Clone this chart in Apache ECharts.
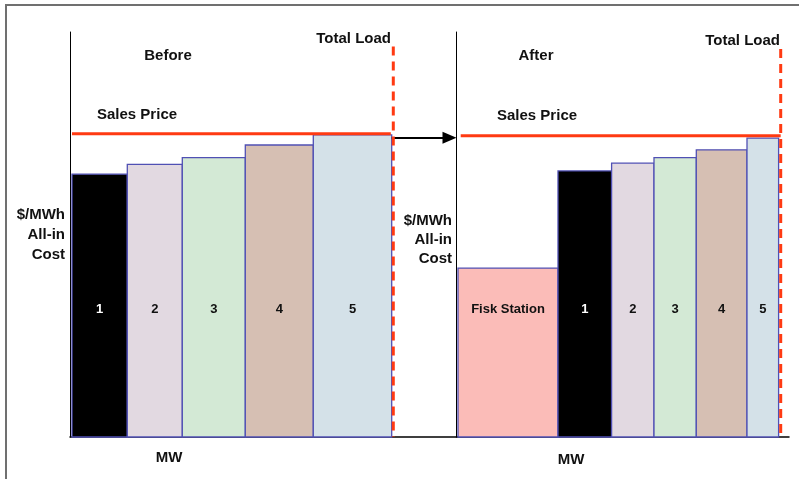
<!DOCTYPE html>
<html>
<head>
<meta charset="utf-8">
<style>
  html, body { margin: 0; padding: 0; background: #ffffff; }
  #chart { width: 799px; height: 479px; }
</style>
<script src="https://cdn.jsdelivr.net/npm/echarts@6/dist/echarts.min.js"></script>
</head>
<body>
<div id="chart"></div>
<script>
// Supply stack: each unit is a block whose width is its capacity (MW)
// and whose height is its all-in cost ($/MWh).
const beforeUnits = ['1', '2', '3', '4', '5'];
const beforeMW    = [553, 550, 630, 680, 784];
const beforeCost  = [64.9, 67.3, 69.0, 72.1, 74.6];

const afterUnits = ['Fisk Station', '1', '2', '3', '4', '5'];
const afterMW    = [1000, 536, 424, 423, 507, 316];
const afterCost  = [41.7, 65.7, 67.6, 69.0, 70.9, 73.8];

const unitColors = {
  'Fisk Station': '#fbbcb8',
  '1': '#000000',
  '2': '#e2d9e1',
  '3': '#d3e9d5',
  '4': '#d6bfb3',
  '5': '#d4e1e8'
};

const beforeLoad = 3213;      // total load, MW
const afterLoad = 3227;
const beforePrice = 74.9;     // sales price, $/MWh
const afterPrice = 74.4;
const labelLevel = 31.6;      // height at which unit names are written

// Cumulative blocks [startMW, endMW, cost]
function stack(mw, cost) {
  let x = 0;
  return mw.map((w, i) => {
    const item = [x, x + w, cost[i]];
    x += w;
    return item;
  });
}

const beforeBlocks = stack(beforeMW, beforeCost);
const afterBlocks = stack(afterMW, afterCost);

function blockRenderer(names) {
  return function (params, api) {
    const x0 = api.value(0), x1 = api.value(1), c = api.value(2);
    const name = names[params.dataIndex];
    const p0 = api.coord([x0, 0]);
    const p1 = api.coord([x1, c]);
    const ly = api.coord([x0, labelLevel])[1];
    return {
      type: 'group',
      children: [
        {
          type: 'rect',
          shape: { x: p0[0], y: p1[1], width: p1[0] - p0[0], height: p0[1] - p1[1] },
          style: { fill: unitColors[name], stroke: '#5050b4', lineWidth: 1.3 }
        },
        {
          type: 'text',
          style: {
            text: name,
            x: (p0[0] + p1[0]) / 2,
            y: ly,
            align: 'center',
            verticalAlign: 'middle',
            fill: name === '1' ? '#ffffff' : '#111111',
            font: 'bold 13px "Liberation Sans", Arial, sans-serif'
          }
        }
      ]
    };
  };
}

const FONT = '"Liberation Sans", Arial, sans-serif';
const red = '#ff3a12';

function textEl(text, x, y, align, size, lineHeight) {
  return {
    type: 'text',
    x: x, y: y,
    style: {
      text: text,
      align: align,
      verticalAlign: 'middle',
      fill: '#111111',
      font: 'bold ' + (size || 15) + 'px ' + FONT,
      lineHeight: lineHeight || 18
    }
  };
}

const chart = echarts.init(document.getElementById('chart'), null, { renderer: 'canvas' });

const hiddenAxis = {
  axisTick: { show: false },
  axisLabel: { show: false },
  splitLine: { show: false }
};

chart.setOption({
  animation: false,
  backgroundColor: '#ffffff',
  grid: [
    { left: 70, top: 32, width: 386, height: 405 },
    { left: 456.5, top: 32, width: 332.5, height: 405 }
  ],
  xAxis: [
    Object.assign({ type: 'value', gridIndex: 0, min: -20, max: 3840,
      axisLine: { onZero: false, lineStyle: { color: '#000000', width: 1.5 } } }, hiddenAxis),
    Object.assign({ type: 'value', gridIndex: 1, min: -15, max: 3310,
      axisLine: { onZero: false, lineStyle: { color: '#000000', width: 1.5 } } }, hiddenAxis)
  ],
  yAxis: [
    Object.assign({ type: 'value', gridIndex: 0, min: 0, max: 100,
      axisLine: { show: true, onZero: false, lineStyle: { color: '#000000', width: 1 } } }, hiddenAxis),
    Object.assign({ type: 'value', gridIndex: 1, min: 0, max: 100,
      axisLine: { show: true, onZero: false, lineStyle: { color: '#000000', width: 1 } } }, hiddenAxis)
  ],
  series: [
    {
      type: 'custom', xAxisIndex: 0, yAxisIndex: 0,
      renderItem: blockRenderer(beforeUnits), data: beforeBlocks, z: 2
    },
    {
      type: 'custom', xAxisIndex: 1, yAxisIndex: 1,
      renderItem: blockRenderer(afterUnits), data: afterBlocks, z: 2
    },
    // sales price
    {
      type: 'line', xAxisIndex: 0, yAxisIndex: 0, symbol: 'none', z: 4,
      lineStyle: { color: red, width: 3 },
      data: [[0, beforePrice], [beforeLoad - 25, beforePrice]]
    },
    {
      type: 'line', xAxisIndex: 1, yAxisIndex: 1, symbol: 'none', z: 4,
      lineStyle: { color: red, width: 3 },
      data: [[27, afterPrice], [afterLoad, afterPrice]]
    },
    // total load
    {
      type: 'line', xAxisIndex: 0, yAxisIndex: 0, symbol: 'none', z: 5,
      lineStyle: { color: red, width: 3, type: [9, 6] },
      data: [[beforeLoad, 96.4], [beforeLoad, 0]]
    },
    {
      type: 'line', xAxisIndex: 1, yAxisIndex: 1, symbol: 'none', z: 5,
      lineStyle: { color: red, width: 3, type: [9, 6] },
      data: [[afterLoad, 95.8], [afterLoad, -0.7]]
    },
    // before -> after arrow
    {
      type: 'line', xAxisIndex: 0, yAxisIndex: 0, symbol: 'none', z: 3,
      lineStyle: { width: 0 }, data: [],
      markLine: {
        silent: true,
        symbol: ['none', 'triangle'],
        symbolSize: [12, 14],
        symbolRotate: -90,
        label: { show: false },
        lineStyle: { color: '#000000', width: 2, type: 'solid' },
        data: [[{ coord: [beforeLoad - 15, 73.9] }, { coord: [3775, 73.9] }]]
      }
    }
  ],
  graphic: [
    {
      type: 'rect',
      shape: { x: 6, y: 5, width: 820, height: 500 },
      style: { fill: 'none', stroke: '#707070', lineWidth: 2 },
      silent: true
    },
    textEl('Before', 168, 56, 'center'),
    textEl('After', 536, 56, 'center'),
    textEl('Total Load', 391, 39, 'right'),
    textEl('Total Load', 780, 41, 'right'),
    textEl('Sales Price', 97, 115, 'left'),
    textEl('Sales Price', 497, 116, 'left'),
    textEl('$/MWh\nAll-in\nCost', 65, 235, 'right', 15, 20),
    textEl('$/MWh\nAll-in\nCost', 452, 240, 'right', 15, 19),
    textEl('MW', 169, 458, 'center'),
    textEl('MW', 571, 460, 'center')
  ]
});
</script>
</body>
</html>
